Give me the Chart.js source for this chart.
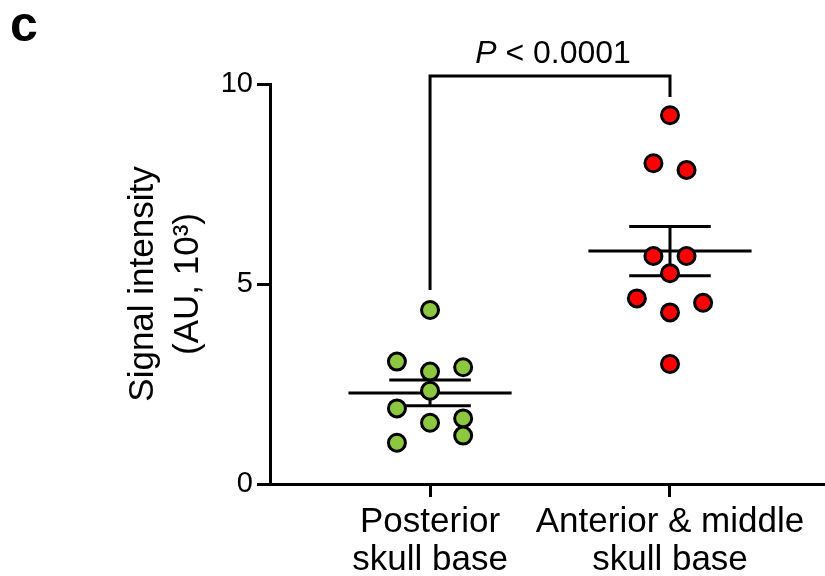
<!DOCTYPE html>
<html>
<head>
<meta charset="utf-8">
<script src="https://cdn.jsdelivr.net/npm/chart.js@4/dist/chart.umd.min.js"></script>
<style>
  html, body { margin: 0; padding: 0; background: #fff; }
  #wrap { width: 825px; height: 576px; }
</style>
</head>
<body>
<div id="wrap"><canvas id="myChart" width="825" height="576"></canvas></div>
<script>
// categories and measured values (AU, 10^3)
var groups = [['Posterior', 'skull base'], ['Anterior & middle', 'skull base']];
var groupX = [1, 2];
var posterior = [4.35, 3.06, 2.81, 2.92, 2.33, 1.89, 1.53, 1.64, 1.21, 1.03];
var anterior = [9.22, 8.02, 7.85, 5.70, 5.70, 5.27, 4.64, 4.53, 4.29, 3.00];
// horizontal spread of the dots, in dot steps
var posteriorSpread = [0, -2, 0, 2, 0, -2, 0, 2, 2, -2];
var anteriorSpread = [0, -1, 1, -1, 1, 0, -2, 2, 0, 0];
var yTicks = [0, 5, 10];
var bracketY = [4.85, 10.2, 10.2, 9.675];
var pText = '< 0.0001';

var FONT = 'Liberation Sans, Arial, Helvetica, sans-serif';
var step = 0.069;

function dots(vals, spread, gx) {
  return vals.map(function (v, i) { return { x: gx + spread[i] * step, y: v }; });
}

function stats(vals) {
  var n = vals.length;
  var m = vals.reduce(function (a, b) { return a + b; }, 0) / n;
  var ss = vals.reduce(function (a, b) { return a + (b - m) * (b - m); }, 0);
  var sem = Math.sqrt(ss / (n - 1)) / Math.sqrt(n);
  return { mean: m, sem: sem };
}

function meanSem(vals, gx) {
  var s = stats(vals);
  var w = 0.34, c = 0.17;
  return [
    { x: gx - w, y: s.mean }, { x: gx + w, y: s.mean }, { x: gx, y: null },
    { x: gx - c, y: s.mean + s.sem }, { x: gx + c, y: s.mean + s.sem }, { x: gx, y: null },
    { x: gx - c, y: s.mean - s.sem }, { x: gx + c, y: s.mean - s.sem }, { x: gx, y: null },
    { x: gx, y: s.mean - s.sem }, { x: gx, y: s.mean + s.sem }
  ];
}

var annotations = {
  id: 'annotations',
  afterDraw: function (chart) {
    var ctx = chart.ctx;
    var xs = chart.scales.x, ys = chart.scales.y;
    ctx.save();
    ctx.fillStyle = '#000';
    // panel letter
    ctx.font = 'bold 50px ' + FONT;
    ctx.textBaseline = 'alphabetic';
    ctx.textAlign = 'left';
    ctx.fillText('c', 10, 41);
    // p value above bracket
    var cx = xs.getPixelForValue((groupX[0] + groupX[1]) / 2) + 3;
    var by = ys.getPixelForValue(bracketY[1]) - 13;
    ctx.font = 'italic 32px ' + FONT;
    var w1 = ctx.measureText('P ').width;
    ctx.font = '32px ' + FONT;
    var w2 = ctx.measureText(pText).width;
    var x0 = cx - (w1 + w2) / 2;
    ctx.font = 'italic 32px ' + FONT;
    ctx.fillText('P', x0, by);
    ctx.font = '32px ' + FONT;
    ctx.fillText(pText, x0 + w1, by);
    ctx.restore();
  }
};

var ctx = document.getElementById('myChart').getContext('2d');
Chart.defaults.color = '#000';
Chart.defaults.font.family = FONT;

var myChart = new Chart(ctx, {
  type: 'scatter',
  data: {
    datasets: [
      {
        data: dots(posterior, posteriorSpread, groupX[0]),
        backgroundColor: 'rgb(141, 198, 63)',
        borderColor: '#000',
        borderWidth: 3,
        pointRadius: 8.5,
        order: 0
      },
      {
        data: dots(anterior, anteriorSpread, groupX[1]),
        backgroundColor: 'rgb(255, 0, 0)',
        borderColor: '#000',
        borderWidth: 3,
        pointRadius: 8.5,
        order: 0
      },
      {
        type: 'line',
        data: meanSem(posterior, groupX[0]).concat([{ x: groupX[1], y: null }], meanSem(anterior, groupX[1])),
        borderColor: '#000',
        borderWidth: 3,
        pointRadius: 0,
        fill: false,
        spanGaps: false,
        order: 1
      },
      {
        type: 'line',
        data: [
          { x: groupX[0], y: bracketY[0] }, { x: groupX[0], y: bracketY[1] },
          { x: groupX[1], y: bracketY[2] }, { x: groupX[1], y: bracketY[3] }
        ],
        borderColor: '#000',
        borderWidth: 3,
        pointRadius: 0,
        fill: false,
        clip: false,
        order: 2
      }
    ]
  },
  options: {
    responsive: false,
    animation: false,
    layout: { autoPadding: false, padding: { top: 84, left: 0, right: 0, bottom: 0 } },
    plugins: { legend: { display: false }, tooltip: { enabled: false } },
    scales: {
      x: {
        type: 'linear',
        min: 0.333,
        max: 2.646,
        afterBuildTicks: function (scale) {
          scale.ticks = groupX.map(function (v) { return { value: v }; });
        },
        afterFit: function (scale) {
          scale.height = 92;
          scale.paddingLeft = 0;
          scale.paddingRight = 0;
        },
        ticks: {
          font: { size: 35, lineHeight: 1.09 },
          padding: 6,
          maxRotation: 0,
          autoSkip: false,
          callback: function (value, index) { return groups[index]; }
        },
        grid: { drawOnChartArea: false, tickLength: 13, tickWidth: 3, tickColor: '#000' },
        border: { display: true, color: '#000', width: 3 }
      },
      y: {
        min: 0,
        max: 10,
        afterBuildTicks: function (scale) {
          scale.ticks = yTicks.map(function (v) { return { value: v }; });
        },
        afterFit: function (scale) {
          scale.width = 270;
          scale.paddingTop = 0;
          scale.paddingBottom = 0;
        },
        ticks: { font: { size: 29 }, padding: 4 },
        grid: { drawOnChartArea: false, tickLength: 13, tickWidth: 3, tickColor: '#000' },
        border: { display: true, color: '#000', width: 3 },
        title: {
          display: true,
          text: ['Signal intensity', '(AU, 10\u00B3)'],
          font: { size: 35, lineHeight: 1.31 },
          padding: { top: 120, bottom: 0 }
        }
      }
    }
  },
  plugins: [annotations]
});
</script>
</body>
</html>
